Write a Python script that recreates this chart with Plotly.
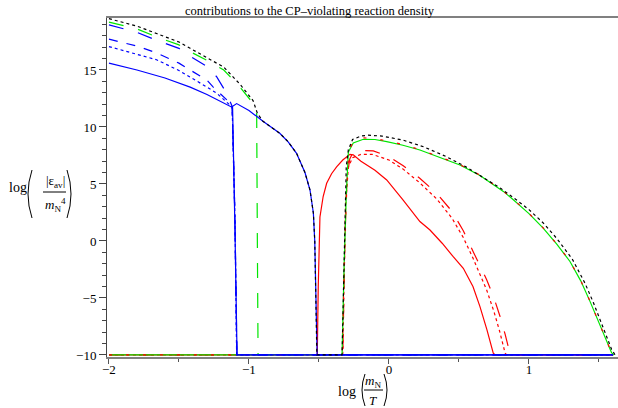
import plotly.graph_objects as go

# ---------------------------------------------------------------------------
# log(m_N / T) on x, log(|eps_av| / m_N^4) on y.  Values are clipped at -10.
# ---------------------------------------------------------------------------
FLOOR = -10.0
X_MIN, X_MAX = -2.0, 1.6

# blue, solid: falls off at x ~ -1.1
blue_solid_a_x = [-2.0, -1.8, -1.6, -1.42, -1.3, -1.18, -1.124, -1.117, -1.10, -1.085, X_MAX]
blue_solid_a_y = [15.6, 15.0, 14.3, 13.5, 12.85, 12.07, 11.75, 11.7, 1.0, FLOOR, FLOOR]

# blue, solid: second branch, crosses zero near x ~ -0.52
blue_solid_b_x = [-1.124, -1.105, -1.088, -1.0, -0.9, -0.78, -0.72, -0.66, -0.6, -0.564,
                  -0.54, -0.53, -0.52, -0.513, X_MAX]
blue_solid_b_y = [11.75, 11.95, 12.05, 11.45, 10.5, 9.45, 8.7, 7.69, 6.0, 4.47,
                  2.45, 0.0, -5.0, FLOOR, FLOOR]

# blue, dotted
blue_dot_x = [-2.0, -1.8, -1.66, -1.5, -1.42, -1.3, -1.23, -1.136, -1.12, -1.10, -1.088, X_MAX]
blue_dot_y = [17.05, 16.4, 15.9, 14.95, 14.4, 13.5, 12.96, 11.9, 11.75, 2.0, FLOOR, FLOOR]

# blue, dashed (middle)
blue_dash_x = [-2.0, -1.8, -1.66, -1.5, -1.42, -1.3, -1.255, -1.16, -1.12, -1.10, -1.087, X_MAX]
blue_dash_y = [17.7, 17.1, 16.5, 15.6, 15.0, 14.1, 13.5, 12.4, 11.8, 2.0, FLOOR, FLOOR]

# blue, long dash (upper)
blue_ldash_x = [-2.0, -1.8, -1.66, -1.5, -1.42, -1.3, -1.23, -1.16, -1.12, -1.10, -1.086, X_MAX]
blue_ldash_y = [18.95, 18.3, 17.6, 16.9, 16.2, 15.3, 14.4, 12.96, 11.8, 2.0, FLOOR, FLOOR]

# green, upper-left branch
green_left_x = [-2.0, -1.8, -1.66, -1.5, -1.42, -1.3, -1.18, -1.064, -0.97, -0.945, -0.94, -0.935, X_MAX]
green_left_y = [19.2, 18.6, 17.9, 17.2, 16.6, 15.85, 15.0, 13.5, 12.07, 11.4, 0.0, FLOOR, FLOOR]

# green, right branch
green_right_x = [X_MIN, -0.335, -0.32, -0.305, -0.29, -0.255, -0.183, -0.1, -0.016, 0.1, 0.221,
                 0.35, 0.507, 0.65, 0.73, 0.817, 0.88, 0.936, 1.0, 1.1, 1.2, 1.293, 1.37,
                 1.436, 1.49, 1.531, 1.565, 1.59, 1.605, X_MAX]
green_right_y = [FLOOR, FLOOR, -2.0, 4.0, 7.8, 8.6, 8.92, 8.9, 8.71, 8.4, 7.98,
                 7.4, 6.67, 5.75, 5.1, 4.35, 3.7, 3.1, 2.4, 1.15, -0.3, -1.8, -3.5,
                 -5.3, -6.9, -8.2, -9.2, -9.8, FLOOR, FLOOR]

# red, dashed: follows the green right branch
red_upper_x = [X_MIN, -0.333, -0.318, -0.30, -0.285, -0.25, -0.18, -0.1, -0.016, 0.1, 0.221,
               0.35, 0.507, 0.65, 0.73, 0.817, 0.88, 0.936, 1.0, 1.1, 1.2, 1.293, 1.37,
               1.436, 1.49, 1.531, 1.565, 1.59, 1.605, X_MAX]
red_upper_y = [FLOOR, FLOOR, -1.0, 5.0, 8.0, 8.8, 9.05, 8.98, 8.78, 8.46, 8.02,
               7.43, 6.7, 5.78, 5.12, 4.37, 3.72, 3.12, 2.42, 1.17, -0.28, -1.78, -3.48,
               -5.28, -6.88, -8.18, -9.18, -9.8, FLOOR, FLOOR]

# red, solid
red_solid_x = [X_MIN, -0.515, -0.512, -0.505, -0.493, -0.47, -0.445, -0.41, -0.374, -0.33,
               -0.279, -0.255, -0.2, -0.1, -0.016, 0.1, 0.221, 0.293, 0.38, 0.459, 0.531,
               0.6, 0.65, 0.7, 0.745, 0.76, X_MAX]
red_solid_y = [FLOOR, FLOOR, FLOOR, -4.0, 2.1, 3.9, 5.06, 5.9, 6.5, 7.1,
               7.6, 7.55, 7.0, 6.2, 5.35, 3.6, 1.7, 0.96, -0.2, -1.38, -2.4,
               -4.0, -5.76, -7.8, -9.85, FLOOR, FLOOR]

# red, long dash
red_dash_x = [X_MIN, -0.33, -0.315, -0.30, -0.28, -0.255, -0.207, -0.112, 0.0, 0.102, 0.22,
              0.34, 0.45, 0.531, 0.6, 0.698, 0.75, 0.793, 0.83, 0.864, 0.875, X_MAX]
red_dash_y = [FLOOR, FLOOR, 0.0, 5.5, 7.2, 7.8, 7.95, 7.9, 7.4, 6.6, 5.5,
              4.2, 2.6, 0.9, -0.9, -3.4, -5.0, -6.6, -8.2, -9.85, FLOOR, FLOOR]

# red, dotted
red_dot_x = [X_MIN, -0.33, -0.31, -0.29, -0.26, -0.2, -0.12, 0.0, 0.102, 0.22, 0.34,
             0.45, 0.531, 0.6, 0.698, 0.75, 0.79, 0.83, 0.84, X_MAX]
red_dot_y = [FLOOR, FLOOR, 3.0, 6.5, 7.3, 7.6, 7.6, 7.1, 6.3, 5.1, 3.7,
             2.0, 0.3, -1.5, -4.3, -6.2, -7.9, -9.85, FLOOR, FLOOR]

# black, dotted: the sum of all contributions
total_x = [-2.0, -1.8, -1.66, -1.5, -1.42, -1.3, -1.18, -1.064, -0.97, -0.94, -0.9, -0.78,
           -0.72, -0.66, -0.6, -0.564, -0.54, -0.53, -0.515, -0.335, -0.32, -0.305,
           -0.29, -0.26, -0.2, -0.15, -0.05, 0.1, 0.25, 0.4, 0.55, 0.7, 0.8, 0.9, 1.0,
           1.1, 1.2, 1.31, 1.4, 1.46, 1.51, 1.555, 1.59, 1.615]
total_y = [19.5, 18.85, 18.2, 17.45, 16.9, 16.1, 15.25, 13.75, 12.3, 11.2, 10.5, 9.45,
           8.7, 7.69, 6.0, 4.47, 2.45, 0.0, FLOOR, FLOOR, 0.0, 6.5,
           8.0, 8.9, 9.2, 9.28, 9.2, 8.85, 8.25, 7.45, 6.5, 5.4, 4.6, 3.7, 2.75,
           1.6, 0.2, -1.6, -3.7, -5.4, -7.0, -8.5, -9.5, FLOOR]

RED, GREEN, BLUE, BLACK = "#ff0000", "#00e600", "#0000ff", "#000000"

curves = [
    (red_dash_x, red_dash_y, RED, "longdash"),
    (red_dot_x, red_dot_y, RED, "dot"),
    (red_solid_x, red_solid_y, RED, "solid"),
    (green_right_x, green_right_y, GREEN, "solid"),
    (red_upper_x, red_upper_y, RED, "3px,14px"),
    (green_left_x, green_left_y, GREEN, "longdash"),
    (blue_solid_a_x, blue_solid_a_y, BLUE, "solid"),
    (blue_solid_b_x, blue_solid_b_y, BLUE, "solid"),
    (blue_dot_x, blue_dot_y, BLUE, "dot"),
    (blue_dash_x, blue_dash_y, BLUE, "dash"),
    (blue_ldash_x, blue_ldash_y, BLUE, "longdash"),
    (total_x, total_y, BLACK, "dot"),
]

fig = go.Figure()
for xs, ys, color, dash in curves:
    fig.add_trace(go.Scatter(x=xs, y=ys, mode="lines",
                             line=dict(color=color, width=1.2, dash=dash),
                             showlegend=False, hoverinfo="skip"))

W, H = 618, 408
ML, MR, MT, MB = 107, 0, 18, 51
PW, PH = W - ML - MR, H - MT - MB


def px(x):
    return (x - ML) / PW


def py(y):
    return (H - MB - y) / PH


SERIF = "Liberation Serif, Times New Roman, serif"
annotations = [
    dict(text="contributions to the CP–violating reaction density", x=px(310), y=py(11), size=12.5),
    # y-axis label: log( |eps_av| / m_N^4 )
    dict(text="log", x=px(18), y=py(187), size=14),
    dict(text="|ε<sub>av</sub>|", x=px(55), y=py(181), size=13),
    dict(text="<i>m</i><sub>N</sub><sup>4</sup>", x=px(55), y=py(205), size=13),
    # x-axis label: log( m_N / T )
    dict(text="log", x=px(347), y=py(391), size=14),
    dict(text="<i>m</i><sub>N</sub>", x=px(373), y=py(381), size=13),
    dict(text="<i>T</i>", x=px(373), y=py(400), size=13),
]
layout_ann = []
for a in annotations:
    layout_ann.append(dict(text=a["text"], x=a["x"], y=a["y"], xref="paper", yref="paper",
                           showarrow=False, xanchor="center", yanchor="middle",
                           font=dict(family=SERIF, size=a["size"], color="black")))


def bracket(x_top, x_mid, y_top, y_bot):
    ym = (y_top + y_bot) / 2
    return dict(type="path", xref="paper", yref="paper",
                path=f"M {px(x_top)} {py(y_top)} Q {px(x_mid)} {py(ym)} {px(x_top)} {py(y_bot)}",
                line=dict(color="black", width=1))


shapes = [
    bracket(32, 24, 170, 218),
    bracket(67, 75, 170, 218),
    dict(type="line", xref="paper", yref="paper", x0=px(43), x1=px(66), y0=py(192), y1=py(192),
         line=dict(color="black", width=1)),
    bracket(365, 359, 374, 406),
    bracket(384, 390, 374, 406),
    dict(type="line", xref="paper", yref="paper", x0=px(364), x1=px(383), y0=py(390), y1=py(390),
         line=dict(color="black", width=1)),
]

fig.update_layout(
    width=W, height=H,
    margin=dict(l=ML, r=MR, t=MT, b=MB, pad=0),
    paper_bgcolor="white", plot_bgcolor="white",
    font=dict(family=SERIF, size=13, color="black"),
    annotations=layout_ann,
    shapes=shapes,
    xaxis=dict(range=[-2.014, 1.636], showgrid=False, zeroline=False,
               showline=True, linecolor="#808080", linewidth=2, mirror=True,
               ticks="outside", ticklen=5, tickcolor="#555555", tickwidth=1,
               tick0=0, dtick=1, ticklabelstandoff=-6,
               minor=dict(ticks="outside", ticklen=3, dtick=0.5, tickcolor="#555555"),
               tickfont=dict(family=SERIF, size=13)),
    yaxis=dict(range=[-10.18, 19.56], showgrid=False, zeroline=False,
               showline=True, linecolor="#444444", linewidth=1,
               ticks="outside", ticklen=7, tickcolor="#444444", tickwidth=1,
               tick0=0, dtick=5,
               minor=dict(ticks="outside", ticklen=4, dtick=1, tickcolor="#444444"),
               tickfont=dict(family=SERIF, size=13)),
)

fig.write_html("out.html")
